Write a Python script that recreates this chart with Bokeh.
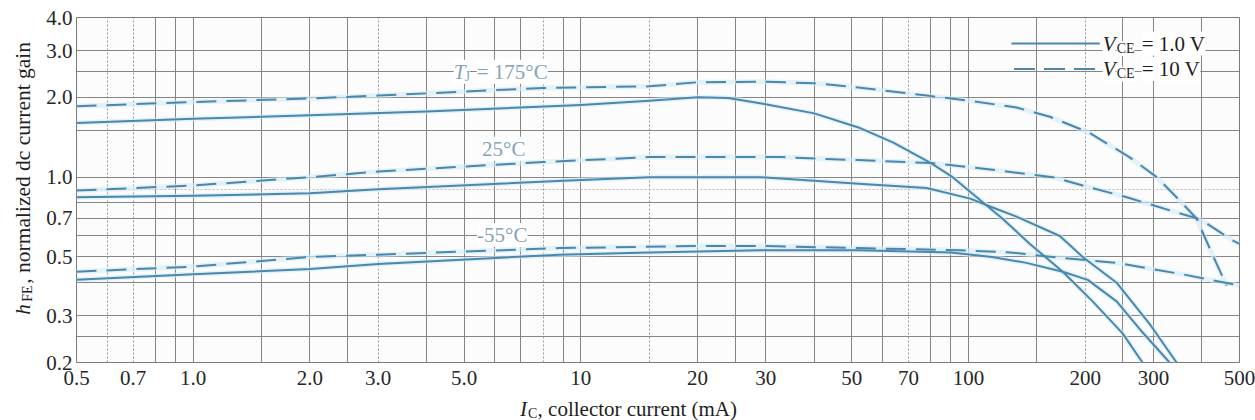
import math
from bokeh.plotting import figure
from bokeh.models import FixedTicker, Label, Grid
from bokeh.embed import file_html
from bokeh.resources import INLINE

# ---------------- data ----------------
ic_175_1v = [0.5, 1.0, 2.0, 4.0, 10, 15, 20, 24, 29.5, 40, 52, 64, 80, 91, 105, 122, 144, 175, 209, 250, 281]
hfe_175_1v = [1.60, 1.66, 1.71, 1.77, 1.87, 1.94, 2.00, 1.99, 1.89, 1.74, 1.54, 1.35, 1.13, 1.00, 0.84, 0.70, 0.56, 0.44, 0.34, 0.257, 0.20]

ic_175_10v = [0.5, 1.0, 2.0, 3.0, 8.0, 15, 20, 30, 40, 52, 78, 101, 133, 162, 205, 260, 306, 336, 387, 426, 463]
hfe_175_10v = [1.85, 1.92, 1.98, 2.03, 2.17, 2.20, 2.28, 2.29, 2.26, 2.18, 2.03, 1.94, 1.83, 1.69, 1.47, 1.19, 1.00, 0.87, 0.70, 0.51, 0.39]

ic_25_1v = [0.5, 1.0, 2.0, 3.0, 9, 15, 20, 29, 40, 52, 78, 101, 115, 133, 172, 197, 241, 293, 344]
hfe_25_1v = [0.84, 0.85, 0.87, 0.90, 0.97, 1.0, 1.0, 1.0, 0.97, 0.945, 0.91, 0.83, 0.77, 0.71, 0.60, 0.50, 0.40, 0.28, 0.20]

ic_25_10v = [0.5, 1.0, 2.0, 3.0, 8.0, 15, 25, 33, 43, 52, 80, 101, 133, 165, 197, 256, 311, 387, 411, 477, 500]
hfe_25_10v = [0.89, 0.93, 1.0, 1.05, 1.14, 1.19, 1.19, 1.19, 1.17, 1.16, 1.13, 1.09, 1.04, 1.00, 0.93, 0.84, 0.77, 0.70, 0.67, 0.58, 0.56]

ic_m55_1v = [0.5, 1.0, 2.0, 3.0, 8.8, 15, 29, 52, 90, 115, 141, 175, 203, 241, 281, 330]
hfe_m55_1v = [0.41, 0.43, 0.45, 0.47, 0.51, 0.52, 0.53, 0.53, 0.52, 0.50, 0.475, 0.44, 0.41, 0.34, 0.26, 0.20]

ic_m55_10v = [0.5, 1.0, 2.0, 3.0, 8.8, 20, 30, 52, 95, 128, 165, 241, 357, 500]
hfe_m55_10v = [0.44, 0.46, 0.50, 0.51, 0.54, 0.55, 0.55, 0.54, 0.53, 0.52, 0.50, 0.475, 0.43, 0.39]

x_ticks = [0.5, 0.7, 1, 2, 3, 5, 10, 20, 30, 50, 70, 100, 200, 300, 500]
x_tick_labels = ["0.5", "0.7", "1.0", "2.0", "3.0", "5.0", "10", "20", "30", "50", "70", "100", "200", "300", "500"]
y_ticks = [0.2, 0.3, 0.5, 0.7, 1.0, 2.0, 3.0, 4.0]
y_tick_labels = ["0.2", "0.3", "0.5", "0.7", "1.0", "2.0", "3.0", "4.0"]

x_grid = [0.8, 0.9, 1, 1.5, 2, 2.5, 4, 5, 6, 7, 9, 10, 20, 25, 30, 40, 50, 60, 80, 90, 100, 150, 250, 300, 400]
x_grid_light = [0.6, 0.7, 3, 8, 15, 70, 200]
y_grid = [0.25, 0.3, 0.4, 0.5, 0.6, 0.7, 0.8, 1.0, 1.5, 2.0, 2.5, 3.0]
y_grid_light = [0.9]

temp_labels = ["25\u00b0C", "-55\u00b0C"]

# ---------------- styling ----------------
SERIF = "Liberation Serif"
CURVE = "#4a87ab"
HALO = "#d2eaf6"
LABEL_BLUE = "#86a3b7"
TXT = "#1e1e1e"

p = figure(x_axis_type="log", y_axis_type="log",
           x_range=(0.5, 500), y_range=(0.2, 4.0),
           width=1255, height=420,
           min_border_left=76, min_border_right=15, min_border_top=17, min_border_bottom=58,
           output_backend="svg", toolbar_location=None)

p.background_fill_color = "#fcfcfc"
p.border_fill_color = "white"
p.outline_line_color = "#7a7a7a"
p.outline_line_width = 1

# axes
for ax in (p.xaxis[0], p.yaxis[0]):
    ax.axis_line_color = None
    ax.major_tick_line_color = None
    ax.minor_tick_line_color = None
    ax.major_tick_in = 0
    ax.major_tick_out = 0
    ax.minor_tick_in = 0
    ax.minor_tick_out = 0
    ax.major_label_text_font = SERIF
    ax.major_label_text_font_size = "21px"
    ax.major_label_text_color = "#262626"

p.xaxis.ticker = FixedTicker(ticks=x_ticks, minor_ticks=[])
p.xaxis.major_label_overrides = dict(zip(x_ticks, x_tick_labels))
p.xaxis.major_label_standoff = 8

p.yaxis.ticker = FixedTicker(ticks=y_ticks, minor_ticks=[])
p.yaxis.major_label_overrides = dict(zip(y_ticks, y_tick_labels))
p.yaxis.major_label_standoff = 4

# grids
p.xgrid.ticker = FixedTicker(ticks=x_grid, minor_ticks=[])
p.ygrid.ticker = FixedTicker(ticks=y_grid, minor_ticks=[])
for g in (p.xgrid[0], p.ygrid[0]):
    g.grid_line_color = "#858585"
    g.grid_line_width = 1
    g.grid_line_alpha = 1.0

p.add_layout(Grid(dimension=0, ticker=FixedTicker(ticks=x_grid_light, minor_ticks=[]),
                  grid_line_color="#9a9a9a", grid_line_width=1, grid_line_dash="2 2"))
p.add_layout(Grid(dimension=1, ticker=FixedTicker(ticks=y_grid_light, minor_ticks=[]),
                  grid_line_color="#c4b4b4", grid_line_width=1, grid_line_dash="2 2"))

# curves
series = [
    (ic_175_1v, hfe_175_1v, "solid"),
    (ic_175_10v, hfe_175_10v, "20 10"),
    (ic_25_1v, hfe_25_1v, "solid"),
    (ic_25_10v, hfe_25_10v, "20 10"),
    (ic_m55_1v, hfe_m55_1v, "solid"),
    (ic_m55_10v, hfe_m55_10v, "20 10"),
]
for xs, ys, dash in series:
    p.line(xs, ys, line_color=HALO, line_width=5, line_alpha=0.6, line_join="round")
for xs, ys, dash in series:
    p.line(xs, ys, line_color=CURVE, line_width=2, line_dash=dash, line_join="round")

# legend (drawn by hand to allow subscripts)
LEG_X = [129, 218]
p.line(LEG_X, [3.19, 3.19], line_color=CURVE, line_width=2)
p.line([131, 216], [2.56, 2.56], line_color=CURVE, line_width=2, line_dash="21 9")


def lab(x, y, text, size=21, style="normal", color=TXT, xo=0, yo=0, align="left",
        baseline="middle", angle=0.0, bg=None, place="center"):
    l = Label(x=x, y=y, text=text, x_offset=xo, y_offset=yo,
              text_font=SERIF, text_font_size=f"{size}px", text_font_style=style,
              text_color=color, text_align=align, text_baseline=baseline, angle=angle)
    if bg:
        l.background_fill_color = bg
    p.add_layout(l, place)


for yv, rest in ((3.19, "= 1.0 V"), (2.56, "= 10 V")):
    lab(221.8, yv, "V", style="italic", bg="white")
    lab(221.8, yv, "CE", size=14, xo=14, yo=-5, bg="white")
    lab(221.8, yv, rest, xo=39, bg="white")

# temperature labels
lab(4.7, 2.5, "T", style="italic", color=LABEL_BLUE, bg="white")
lab(4.7, 2.5, "J", size=14, color=LABEL_BLUE, xo=11, yo=-5, bg="white")
lab(4.7, 2.5, "= 175\u00b0C", color=LABEL_BLUE, xo=23, bg="white")
lab(5.56, 1.28, temp_labels[0], color=LABEL_BLUE, bg="white")
lab(5.40, 0.605, temp_labels[1], color=LABEL_BLUE, bg="white")

# axis titles (with subscripts); placed in side panels so they are not clipped
lab(6.97, 0.1330, ", collector current (mA)", xo=17.5, baseline="alphabetic", place="below")
lab(6.97, 0.1330, "I", style="italic", baseline="alphabetic", place="right")
lab(6.97, 0.1330, "C", size=14, xo=8, yo=-4, baseline="alphabetic", place="right")

ang = math.pi / 2
lab(0.363, 0.3028, ", normalized dc current gain", size=21.5, yo=31, angle=ang, place="left")
lab(0.363, 0.3028, "FE", size=14, xo=5, yo=13, angle=ang, place="left")
lab(0.363, 0.3028, "h", style="italic", angle=ang, place="above")

open("out.html", "w").write(file_html(p, INLINE))
